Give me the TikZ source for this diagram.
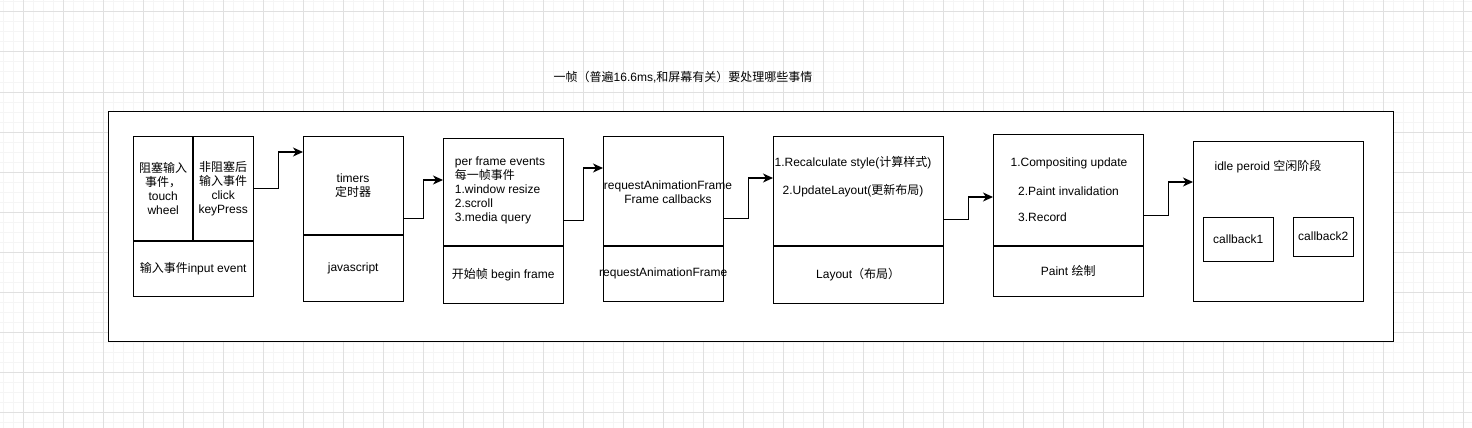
\documentclass[tikz,border=0pt]{standalone}
\usepackage{fontspec}
\setmainfont{Liberation Sans}
\newfontfamily\cjk{Noto Sans CJK SC}
\newcommand\zhtext[1]{{\cjk #1}}
\usetikzlibrary{arrows.meta,positioning}

\begin{document}
\begin{tikzpicture}
                [x=1pt,y=-1pt,
                 font=\fontsize{12}{14}\selectfont,
                 cell/.style 2 args={draw,fill=white,anchor=north west,inner sep=0pt,
                                     align=center,minimum width=#1,minimum height=#2},
                 txt/.style={inner sep=0pt,align=center},
                 divider/.style={line width=2pt},
                 flow/.style={-{Stealth[length=10pt,width=9pt,inset=3pt]},line width=1.2pt},
                 minorgrid/.style={draw=black!4,line width=1pt},
                 majorgrid/.style={draw=black!12,line width=1pt}]

                \useasboundingbox (0,0) rectangle (1472,428);

                % background grid
                \foreach \x in {3,13,...,1473} \draw[minorgrid] (\x,0) -- (\x,428);
                \foreach \y in {2,12,...,432}  \draw[minorgrid] (0,\y) -- (1472,\y);
                \foreach \x in {23,63,...,1463} \draw[majorgrid] (\x,0) -- (\x,428);
                \foreach \y in {12,52,...,412}  \draw[majorgrid] (0,\y) -- (1472,\y);

                \node[txt] (title) at (683,77) {\zhtext{一帧（普遍}16.6ms,\zhtext{和屏幕有关）要处理哪些事情}};

                \node[cell={1285}{230}] (frame) at (108,111) {};

                % input event
                \node[cell={60}{105}]  (block)    at (133,136) {\zhtext{阻塞输入}\\\zhtext{事件，}\\touch\\wheel};
                \node[cell={60}{105}]  (nonblock) at (193,136) {\zhtext{非阻塞后}\\\zhtext{输入事件}\\click\\keyPress};
                \node[cell={120}{55}]  (input)    at (133,241) {\zhtext{输入事件}input event};
                \draw[divider] (input.north west) -- (input.north east);
                \draw[divider] (block.north east) -- (block.south east);

                % timers
                \node[cell={100}{165}] (timers)   at (303,136) {};
                \node[cell={100}{66}]  (js)       at (303,235) {javascript};
                \draw[divider] (js.north west) -- (js.north east);
                \node[txt] (timerstext) at (353,186) {timers\\\zhtext{定时器}};

                % begin frame
                \node[cell={120}{165}] (perframe) at (443,138) {};
                \node[cell={120}{57}]  (begin)    at (443,246) {\zhtext{开始帧} begin frame};
                \draw[divider] (begin.north west) -- (begin.north east);
                \node[txt,align=left] (perframetext) at (500,190)
                    {per frame events\\\zhtext{每一帧事件}\\1.window resize\\2.scroll\\3.media query};

                % requestAnimationFrame
                \node[cell={120}{165}] (raf)      at (603,136) {};
                \node[cell={120}{55}]  (rafname)  at (603,246) {};
                \draw[divider] (rafname.north west) -- (rafname.north east);
                \node[txt] (rafnametext) at (rafname.center) {requestAnimationFrame};
                \node[txt] (raftext) at (668,192) {requestAnimationFrame\\Frame callbacks};

                % layout
                \node[cell={170}{167}] (style)    at (773,136) {};
                \node[cell={170}{57}]  (layout)   at (773,246) {Layout\zhtext{（布局）}};
                \draw[divider] (layout.north west) -- (layout.north east);
                \node[txt] (recalc) at (853,163) {1.Recalculate style(\zhtext{计算样式})};
                \node[txt] (update) at (853,191) {2.UpdateLayout(\zhtext{更新布局})};

                % paint
                \node[cell={150}{162}] (paint)    at (993,134) {};
                \node[cell={150}{50}]  (paintname) at (993,246) {Paint \zhtext{绘制}};
                \draw[divider] (paintname.north west) -- (paintname.north east);
                \node[txt] (composite) at (1069,163) {1.Compositing update};
                \node[txt,anchor=west] (invalid) at (1018,191) {2.Paint invalidation};
                \node[txt,anchor=west] (record)  at (1018,217) {3.Record};

                % idle period
                \node[cell={170}{160}] (idle)     at (1193,141) {};
                \node[txt] (idletext) at (1268,167) {idle peroid \zhtext{空闲阶段}};
                \node[cell={70}{44}]   (cb1)      at (1203,217) {callback1};
                \node[cell={60}{39}]   (cb2)      at (1293,217) {callback2};

                % connectors
                \draw[flow] (nonblock.east) -- ++(25,0) |- ([yshift=-16]timers.north west);
                \draw[flow] (timers.east)   -- ++(20,0) |- ([yshift=-42]perframe.north west);
                \draw[flow] (perframe.east) -- ++(20,0) |- ([yshift=-32]raf.north west);
                \draw[flow] (raf.east)      -- ++(25,0) |- ([yshift=-42]style.north west);
                \draw[flow] (style.east)    -- ++(25,0) |- ([yshift=-63]paint.north west);
                \draw[flow] (paint.east)    -- ++(25,0) |- ([yshift=-41]idle.north west);

            \end{tikzpicture}
\end{document}
